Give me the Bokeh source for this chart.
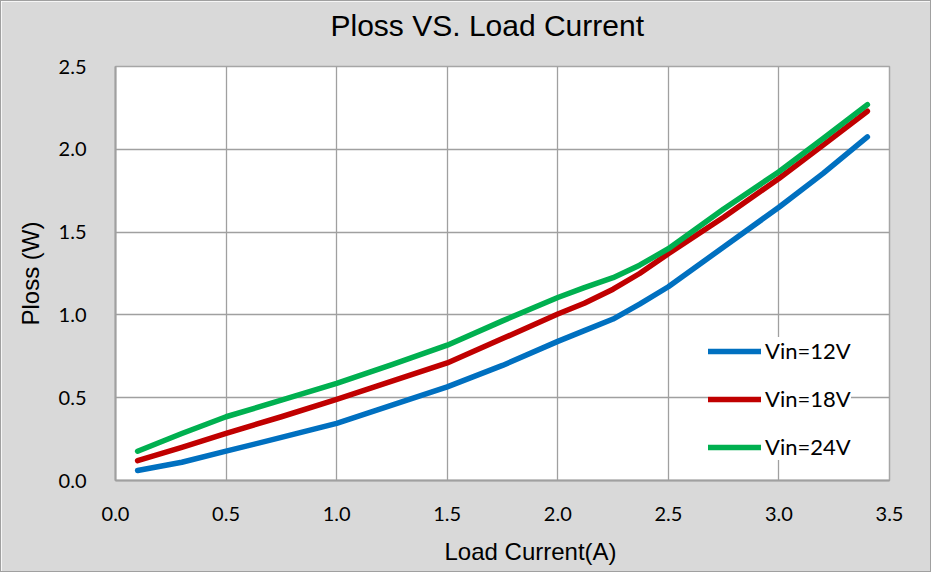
from bokeh.plotting import figure
from bokeh.models import Title, Legend, LegendItem, SingleIntervalTicker, NumeralTickFormatter, Range1d
from bokeh.embed import file_html
from bokeh.resources import INLINE

# Data
load_current = [0.1, 0.3, 0.5, 0.75, 1.0, 1.25, 1.5, 1.75, 2.0, 2.12, 2.25, 2.37, 2.5, 2.75, 3.0, 3.2, 3.4]
ploss_12v = [0.06, 0.11, 0.177, 0.26, 0.345, 0.455, 0.565, 0.695, 0.84, 0.905, 0.975, 1.065, 1.17, 1.41, 1.65, 1.855, 2.075]
ploss_18v = [0.12, 0.20, 0.285, 0.385, 0.49, 0.60, 0.71, 0.857, 1.005, 1.07, 1.155, 1.25, 1.37, 1.59, 1.824, 2.025, 2.23]
ploss_24v = [0.177, 0.284, 0.385, 0.485, 0.586, 0.70, 0.817, 0.964, 1.105, 1.165, 1.225, 1.30, 1.40, 1.64, 1.864, 2.065, 2.27]
series_names = ["Vin=12V", "Vin=18V", "Vin=24V"]
series_colors = ["#0070C0", "#C00000", "#00B050"]

title_text = "Ploss VS. Load  Current"
x_label_text = "Load  Current(A)"
y_label_text = "Ploss (W)"

p = figure(width=931, height=572, output_backend="svg", toolbar_location=None,
           x_range=Range1d(0, 3.5), y_range=Range1d(0, 2.5),
           min_border_left=114, min_border_right=43, min_border_top=65, min_border_bottom=93)

p.border_fill_color = "#D9D9D9"
p.background_fill_color = "white"
p.outline_line_color = "#A6A6A6"
p.outline_line_width = 1.5
p.styles = {"border": "1px solid #A0A0A0"}

for ax in (p.xaxis[0], p.yaxis[0]):
    ax.ticker = SingleIntervalTicker(interval=0.5)
    ax.formatter = NumeralTickFormatter(format="0.0")
    ax.major_tick_line_color = None
    ax.minor_tick_line_color = None
    ax.axis_line_color = "#A0A0A0"
    ax.axis_line_width = 2
    ax.major_label_text_font = "Lato"
    ax.major_label_text_font_size = "20px"
    ax.major_label_text_color = "black"
p.xaxis.major_label_standoff = 20
p.yaxis.major_label_standoff = 23

p.xgrid.ticker = SingleIntervalTicker(interval=0.5)
p.ygrid.ticker = SingleIntervalTicker(interval=0.5)
p.grid.grid_line_color = "#A0A0A0"
p.grid.grid_line_width = 1.3

renderers = []
for ys, c in zip([ploss_12v, ploss_18v, ploss_24v], series_colors):
    r = p.line(load_current, ys, line_width=5.5, line_color=c, line_cap="round", line_join="round")
    renderers.append(r)

legend = Legend(items=[LegendItem(label=n, renderers=[r]) for n, r in zip(series_names, renderers)],
                location=(593, 20), padding=15, spacing=21, label_height=20, glyph_height=20,
                glyph_width=53, label_standoff=4, border_line_color=None,
                background_fill_color="white", background_fill_alpha=1.0,
                label_text_font="Lato", label_text_font_size="22px", label_text_color="black")
p.add_layout(legend, "center")

# spacer between frame and chart title
p.add_layout(Title(text=" ", text_font_size="1px", standoff=22), "above")
p.add_layout(Title(text=title_text, align="left", offset=215, standoff=0,
                   text_font="Liberation Sans", text_font_size="30px", text_font_style="normal",
                   text_color="black"), "above")
# spacer between tick labels and x-axis title
p.add_layout(Title(text=" ", text_font_size="1px", standoff=9), "below")
p.add_layout(Title(text=x_label_text, align="left", offset=329, standoff=0,
                   text_font="Liberation Sans", text_font_size="24px", text_font_style="normal",
                   text_color="black"), "below")
p.add_layout(Title(text=y_label_text, align="center", standoff=24,
                   text_font="Liberation Sans", text_font_size="24px", text_font_style="normal",
                   text_color="black"), "left")

open("out.html", "w").write(file_html(p, INLINE))
